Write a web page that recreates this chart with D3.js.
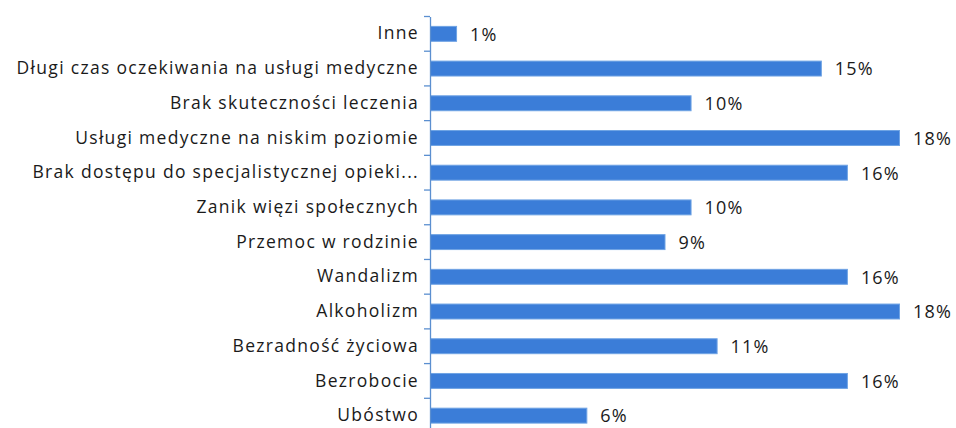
<!DOCTYPE html>
<html lang="pl">
<head>
<meta charset="UTF-8" />
<title>Problemy</title>
<style>
  body { margin: 0; background: #fff; }
  svg text { font-family: "Open Sans", sans-serif; }
</style>
</head>
<body>
<svg id="chart" width="956" height="428"></svg>
<script src="https://d3js.org/d3.v7.min.js"></script>
<script>
const categories = [
  "Inne",
  "Długi czas oczekiwania na usługi medyczne",
  "Brak skuteczności leczenia",
  "Usługi medyczne na niskim poziomie",
  "Brak dostępu do specjalistycznej opieki...",
  "Zanik więzi społecznych",
  "Przemoc w rodzinie",
  "Wandalizm",
  "Alkoholizm",
  "Bezradność życiowa",
  "Bezrobocie",
  "Ubóstwo"
];
const values = [1, 15, 10, 18, 16, 10, 9, 16, 18, 11, 16, 6];

const svg = d3.select("#chart");
const x0 = 430;

const x = d3.scaleLinear().domain([0, 18]).range([x0, 899]);
const y = d3.scaleBand().domain(categories).range([16.5, 433]).paddingInner(0.57).paddingOuter(0.285);

// bars
svg.selectAll("rect.bar")
  .data(categories)
  .enter()
  .append("rect")
  .attr("class", "bar")
  .attr("x", x(0) + 0.5)
  .attr("y", d => y(d))
  .attr("width", (d, i) => x(values[i]) - x(0))
  .attr("height", y.bandwidth())
  .attr("fill", "#3b7dd8")
  .attr("stroke", "#6fa3e4")
  .attr("stroke-width", 1);

// value labels
svg.selectAll("text.val")
  .data(categories)
  .enter()
  .append("text")
  .attr("class", "val")
  .attr("x", (d, i) => x(values[i]) + 14)
  .attr("y", d => y(d) + y.bandwidth() / 2)
  .attr("dy", "0.38em")
  .style("font-size", "18px")
  .style("font-weight", "500")
  .style("letter-spacing", "1.2px")
  .style("fill", "#1a1a1a")
  .text((d, i) => values[i] + "%");

// category axis
const axis = d3.axisLeft(y).tickSize(0).tickPadding(11);
const g = svg.append("g").attr("transform", `translate(${x0},0)`).call(axis);
g.select(".domain").attr("stroke", "#5b8fd0").attr("stroke-width", 1.3);
g.selectAll(".tick text")
  .style("font-size", "17.5px")
  .style("letter-spacing", "1.3px")
  .style("fill", "#1a1a1a")
  .style("font-family", "'Open Sans', sans-serif");

// tick marks between categories
const step = y.step();
const bounds = d3.range(categories.length + 1).map(i => 16.5 + i * step);
svg.selectAll("line.tk")
  .data(bounds)
  .enter()
  .append("line")
  .attr("class", "tk")
  .attr("x1", x0 - 6)
  .attr("x2", x0)
  .attr("y1", d => d)
  .attr("y2", d => d)
  .attr("stroke", "#5b8fd0")
  .attr("stroke-width", 1.3);
</script>
</body>
</html>
